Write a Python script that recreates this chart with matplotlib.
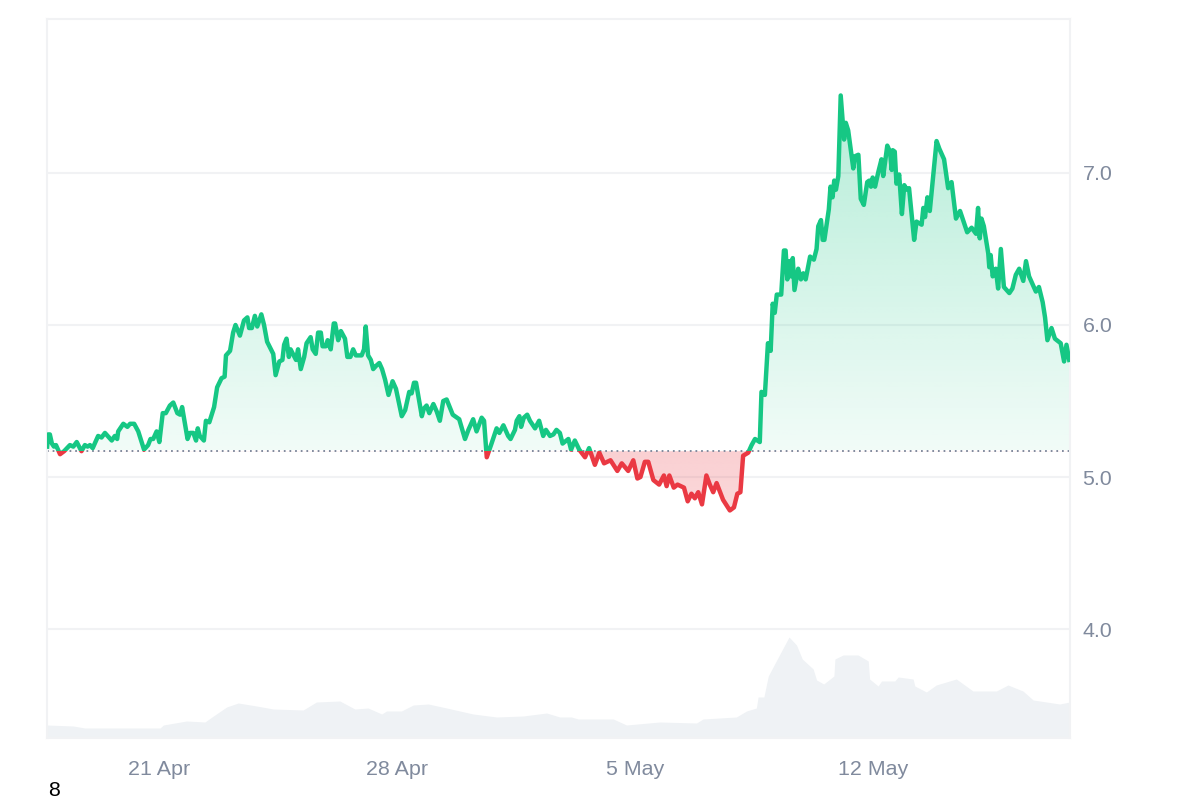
import numpy as np
import matplotlib
matplotlib.use('Agg')
from matplotlib import pyplot as plt
from matplotlib.patches import Rectangle

plt.rcParams['font.family'] = ['Liberation Sans', 'DejaVu Sans']

# days counted from 21 Apr
days = [-3.29, -3.26, -3.21, -3.15, -3.09, -3.03, -2.97, -2.91, -2.79, -2.62, -2.52, -2.42, -2.28, -2.18, -2.10, -2.03,
        -1.95, -1.79, -1.69, -1.59, -1.39, -1.30, -1.23, -1.20, -1.05, -0.93, -0.85, -0.73, -0.61, -0.44, -0.32, -0.25,
        -0.17, -0.07, 0.01, 0.11, 0.20, 0.32, 0.42, 0.54, 0.62, 0.68, 0.84, 0.91, 1.01, 1.09, 1.14, 1.20, 1.32, 1.38,
        1.48, 1.62, 1.71, 1.84, 1.93, 1.97, 2.09, 2.18, 2.25, 2.38, 2.50, 2.60, 2.65, 2.73, 2.82, 2.89, 3.01, 3.09,
        3.18, 3.36, 3.43, 3.54, 3.63, 3.68, 3.75, 3.82, 3.87, 4.03, 4.09, 4.17, 4.27, 4.34, 4.46, 4.52, 4.61, 4.68,
        4.76, 4.81, 4.91, 4.96, 5.05, 5.14, 5.18, 5.27, 5.35, 5.47, 5.54, 5.63, 5.71, 5.79, 5.96, 6.03, 6.08, 6.15,
        6.23, 6.30, 6.38, 6.48, 6.56, 6.65, 6.75, 6.87, 6.97, 7.14, 7.24, 7.36, 7.43, 7.50, 7.56, 7.73, 7.79, 7.87,
        7.95, 8.07, 8.17, 8.26, 8.36, 8.46, 8.64, 8.83, 9.00, 9.10, 9.24, 9.34, 9.49, 9.56, 9.64, 9.78, 9.93, 10.01,
        10.13, 10.27, 10.34, 10.47, 10.52, 10.60, 10.65, 10.73, 10.83, 10.91, 11.06, 11.18, 11.30, 11.38, 11.50, 11.60,
        11.69, 11.79, 11.87, 12.04, 12.12, 12.23, 12.36, 12.53, 12.65, 12.82, 12.95, 13.09, 13.28, 13.48, 13.61, 13.80,
        13.95, 14.07, 14.16, 14.29, 14.39, 14.54, 14.71, 14.85, 14.93, 15.01, 15.14, 15.25, 15.44, 15.55, 15.66, 15.76,
        15.86, 15.97, 16.10, 16.20, 16.30, 16.40, 16.59, 16.79, 16.91, 17.01, 17.10, 17.18, 17.33, 17.43, 17.53, 17.67,
        17.72, 17.82, 17.91, 17.99, 18.05, 18.11, 18.17, 18.30, 18.38, 18.43, 18.48, 18.54, 18.59, 18.64, 18.69, 18.80,
        18.88, 18.95, 19.02, 19.15, 19.26, 19.34, 19.39, 19.47, 19.52, 19.57, 19.70, 19.75, 19.81, 19.86, 19.91, 19.98,
        20.05, 20.15, 20.20, 20.27, 20.42, 20.47, 20.57, 20.64, 20.73, 20.83, 20.89, 20.94, 20.99, 21.06, 21.16, 21.25,
        21.30, 21.42, 21.50, 21.55, 21.58, 21.64, 21.69, 21.77, 21.85, 21.92, 21.99, 22.06, 22.21, 22.28, 22.43, 22.48,
        22.53, 22.60, 22.67, 22.87, 22.95, 23.09, 23.21, 23.31, 23.44, 23.56, 23.77, 23.90, 24.03, 24.09, 24.14, 24.19,
        24.26, 24.39, 24.42, 24.46, 24.52, 24.61, 24.68, 24.76, 24.85, 25.01, 25.10, 25.20, 25.30, 25.42, 25.50, 25.59,
        25.71, 25.79, 25.88, 25.99, 26.06, 26.13, 26.25, 26.35, 26.52, 26.62, 26.69, 26.77]

price = [5.20, 5.28, 5.28, 5.22, 5.20, 5.21, 5.18, 5.15, 5.17, 5.21, 5.20, 5.23, 5.17, 5.21, 5.20, 5.21,
         5.19, 5.27, 5.26, 5.29, 5.24, 5.27, 5.25, 5.30, 5.35, 5.33, 5.35, 5.35, 5.30, 5.18, 5.21, 5.25,
         5.25, 5.30, 5.23, 5.42, 5.42, 5.47, 5.49, 5.42, 5.41, 5.46, 5.25, 5.29, 5.29, 5.24, 5.32, 5.27, 5.24, 5.37,
         5.36, 5.46, 5.59, 5.65, 5.66, 5.80, 5.83, 5.95, 6.00, 5.93, 6.03, 6.05, 5.98, 5.98, 6.06, 5.99, 6.07, 6.00,
         5.89, 5.81, 5.67, 5.76, 5.77, 5.87, 5.91, 5.79, 5.84, 5.77, 5.84, 5.71, 5.79, 5.88, 5.92, 5.84, 5.81, 5.95,
         5.95, 5.86, 5.86, 5.90, 5.84, 6.01, 6.01, 5.90, 5.96, 5.91, 5.79, 5.79, 5.84, 5.80, 5.80, 5.84, 5.99, 5.80,
         5.77, 5.71, 5.73, 5.75, 5.71, 5.64, 5.54, 5.63, 5.58, 5.40, 5.44, 5.56, 5.55, 5.62, 5.62, 5.40, 5.45, 5.47,
         5.42, 5.48, 5.43, 5.37, 5.50, 5.51, 5.41, 5.38, 5.25, 5.31, 5.38, 5.30, 5.39, 5.37, 5.13, 5.22, 5.32, 5.29,
         5.34, 5.27, 5.25, 5.31, 5.37, 5.40, 5.33, 5.39, 5.41, 5.37, 5.32, 5.37, 5.27, 5.31, 5.27, 5.28,
         5.31, 5.29, 5.22, 5.25, 5.18, 5.24, 5.18, 5.13, 5.19, 5.08, 5.16, 5.09, 5.11, 5.04, 5.09, 5.04,
         5.11, 4.99, 5.00, 5.10, 5.10, 4.98, 4.95, 5.01, 4.94, 5.01, 4.93, 4.95, 4.93, 4.84, 4.89, 4.86,
         4.90, 4.82, 5.01, 4.95, 4.90, 4.96, 4.85, 4.78, 4.80, 4.89, 4.90, 5.14, 5.16, 5.21, 5.25, 5.23,
         5.56, 5.54, 5.88, 5.83, 6.14, 6.08, 6.20, 6.20, 6.49, 6.49, 6.30, 6.42, 6.32, 6.44, 6.23, 6.37,
         6.30, 6.34, 6.30, 6.45, 6.43, 6.50, 6.65, 6.69, 6.56, 6.56, 6.76, 6.91, 6.84, 6.95, 6.89, 6.98,
         7.51, 7.22, 7.33, 7.28, 7.03, 7.11, 7.12, 6.83, 6.79, 6.94, 6.95, 6.91, 6.97, 6.91, 7.01, 7.09,
         6.98, 7.18, 7.14, 7.02, 7.15, 7.14, 6.93, 6.99, 6.73, 6.92, 6.89, 6.90, 6.56, 6.68, 6.66, 6.77,
         6.71, 6.84, 6.75, 7.21, 7.16, 7.09, 6.90, 6.94, 6.70, 6.75, 6.61, 6.64, 6.60, 6.77, 6.57, 6.70,
         6.65, 6.47, 6.38, 6.46, 6.32, 6.37, 6.24, 6.50, 6.25, 6.21, 6.24, 6.33, 6.37, 6.29, 6.42, 6.32,
         6.26, 6.22, 6.25, 6.15, 6.05, 5.90, 5.98, 5.91, 5.88, 5.76, 5.87, 5.77]

volume_days = [-3.30, -2.52, -2.18, 0.03, 0.13, 0.81, 1.35, 1.60, 1.99, 2.33, 2.87, 3.36, 4.24, 4.63, 5.32, 5.76,
               6.15, 6.55, 6.69, 7.13, 7.48, 7.92, 8.46, 9.24, 9.93, 10.71, 11.40, 11.79, 12.13, 12.33, 13.36, 13.75,
               14.73, 15.81, 16.00, 16.98, 17.28, 17.57, 17.62, 17.79, 17.92, 18.06, 18.31, 18.53, 18.75, 18.92, 19.24,
               19.34, 19.55, 19.85, 19.88, 20.12, 20.56, 20.86, 20.90, 21.15, 21.25, 21.64, 21.74, 22.18, 22.23, 22.57,
               22.86, 23.45, 23.94, 24.63, 24.97, 25.41, 25.71, 26.49, 26.79]
# no scale on the chart, arbitrary units
volume = [13, 12, 10, 10, 13, 17, 16, 22, 31, 35, 32, 29, 28, 36, 37, 29,
          30, 24, 27, 27, 33, 34, 30, 24, 21, 22, 25, 21, 21, 19, 19, 13,
          16, 15, 19, 21, 27, 30, 41, 41, 62, 71, 87, 101, 93, 79, 69,
          58, 54, 62, 79, 83, 83, 77, 59, 52, 57, 57, 61, 59, 52, 46,
          53, 59, 47, 47, 53, 47, 38, 34, 36]

baseline = 5.17
price_ticks = [4.0, 5.0, 6.0, 7.0]
date_ticks = [0, 7, 14, 21]
date_labels = ['21 Apr', '28 Apr', '5 May', '12 May']

GREEN = '#16c784'
RED = '#ea3943'
GRID = '#f1f2f4'
TEXT = '#808a9d'

fig = plt.figure(figsize=(12, 8), dpi=100)
ax = fig.add_axes([47 / 1200, 1 - 738 / 800, (1070 - 47) / 1200, (738 - 19) / 800])
xmin, xmax = -3.294, 26.794
ymin, ymax = 3.283, 8.013
ax.set_xlim(xmin, xmax)
ax.set_ylim(ymin, ymax)

# volume on its own hidden scale
vol_ax = ax.twinx()
vol_ax.set_ylim(0, 719)
vol_ax.fill_between(volume_days, volume, 0, color='#eff2f5', lw=0)
vol_ax.axis('off')
ax.set_zorder(vol_ax.get_zorder() + 1)
ax.patch.set_visible(False)

ax.yaxis.tick_right()
ax.set_yticks(price_ticks)
ax.set_yticklabels(['%.1f' % p for p in price_ticks])
ax.set_xticks(date_ticks)
ax.set_xticklabels(date_labels)
ax.tick_params(axis='both', length=0, labelsize=15.4, labelcolor=TEXT)
ax.tick_params(axis='x', pad=16)
ax.tick_params(axis='y', pad=9)
ax.grid(axis='y', color=GRID, lw=1.5)
ax.set_axisbelow(True)
for spine in ax.spines.values():
    spine.set_color(GRID)
    spine.set_linewidth(1.5)

# area between price and baseline, gradient images clipped to it
area = ax.fill_between(days, price, baseline, color='none', lw=0)
area_path = area.get_paths()[0]


def gradient(color, a_top, a_bottom, y0, y1):
    rgba = np.ones((256, 2, 4))
    rgba[:, :, :3] = matplotlib.colors.to_rgb(color)
    rgba[:, :, 3] = np.linspace(a_top, a_bottom, 256)[:, None]
    im = ax.imshow(rgba, extent=[xmin, xmax, y0, y1], aspect='auto', origin='upper', zorder=1.5,
                   interpolation='bilinear')
    im.set_clip_path(area_path, transform=ax.transData)


# small gap at the baseline so the images do not leave a coloured row there
gradient(GREEN, 0.32, 0.06, baseline + 0.007, 7.5)
gradient(RED, 0.24, 0.2, 4.78, baseline - 0.007)
ax.set_xlim(xmin, xmax)
ax.set_ylim(ymin, ymax)

ax.axhline(baseline, color=TEXT, lw=1.4, ls=(0, (0.9, 2)), zorder=2)

# same line twice, clipped above and below the baseline
for color, y0, y1 in [(GREEN, baseline, ymax), (RED, ymin, baseline)]:
    line, = ax.plot(days, price, color=color, lw=3.2, zorder=3, solid_joinstyle='round')
    line.set_clip_path(Rectangle((xmin, y0), xmax - xmin, y1 - y0, transform=ax.transData))

fig.text(54 / 1200, 1 - 790 / 800, '8', color='black', fontsize=15.4, ha='center', va='center')

fig.savefig('out.png', dpi=100)
